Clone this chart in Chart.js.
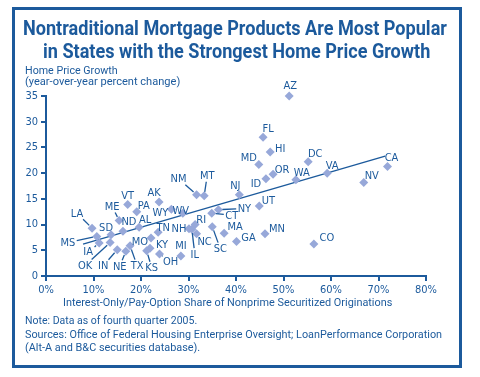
<!DOCTYPE html>
<html>
<head>
<meta charset="utf-8">
<script src="https://cdn.jsdelivr.net/npm/chart.js@4/dist/chart.umd.min.js"></script>
<style>
  body { margin: 0; width: 480px; height: 377px; background: #fff; overflow: hidden;
         font-family: "Roboto", sans-serif; color: #1c5a9c; }
  #frame { position: absolute; left: 12px; top: 7px; width: 444px; height: 355px; border: 3px solid #1c5a9c; }
  .t { position: absolute; white-space: nowrap; line-height: 1; transform-origin: 0 0; }
  .ttl { font-weight: bold; font-size: 20px; }
  .sm { font-size: 11.5px; }
  #wrap { position: absolute; left: 0; top: 0; width: 480px; height: 377px; }
</style>
</head>
<body>
<div id="frame"></div>
<div id="wrap"><canvas id="myChart" width="480" height="377"></canvas></div>
<div class="t ttl" data-w="424" style="left:23px; top:18px">Nontraditional Mortgage Products Are Most Popular</div>
<div class="t ttl" data-w="387" style="left:43px; top:40.7px">in States with the Strongest Home Price Growth</div>
<div class="t sm" data-w="93" style="left:25px; top:64.8px">Home Price Growth</div>
<div class="t sm" data-w="155" style="left:25px; top:76.3px">(year-over-year percent change)</div>
<div class="t sm" data-w="329" style="left:63px; top:296.8px">Interest-Only/Pay-Option Share of Nonprime Securitized Originations</div>
<div class="t sm" data-w="172" style="left:25px; top:315.3px">Note: Data as of fourth quarter 2005.</div>
<div class="t sm" data-w="417" style="left:25px; top:328.6px">Sources: Office of Federal Housing Enterprise Oversight; LoanPerformance Corporation</div>
<div class="t sm" data-w="175" style="left:25px; top:341.8px">(Alt-A and B&amp;C securities database).</div>
<script>
// 州ごとのデータ
var states = ["AZ","FL","HI","MD","DC","OR","ID","WA","VA","CA","NV","NJ","NM","MT","UT","NY","CT","WY","WV","AK",
              "VT","PA","ME","ND","AL","TN","LA","SD","MS","IA","OK","IN","NE","TX","MO","KY","KS","OH","MI","IL",
              "RI","NH","NC","SC","MA","GA","MN","CO"];
// IO/Pay-Option share (%)
var ioShare = [51.2,45.7,47.2,44.8,55.2,47.8,46.3,52.6,59.2,71.9,66.9,40.7,31.7,33.3,44.9,36.3,34.9,26.4,28.8,23.8,
               17.2,19.1,15.4,16.2,19.6,23.6,9.7,13.7,10.7,11.2,13.5,15.0,16.8,17.7,22.1,21.9,21.2,23.9,28.4,30.7,
               31.4,30.1,31.7,35.0,37.5,40.1,46.1,56.4];
// home price growth (%)
var priceGrowth = [35.0,27.0,24.1,21.7,22.2,19.8,18.9,18.7,20.0,21.3,18.2,15.8,15.8,15.6,13.6,12.9,12.2,13.0,12.2,14.4,
                   13.9,12.5,10.8,8.7,9.5,8.5,9.3,8.0,7.7,6.4,6.5,5.1,4.8,5.9,7.4,5.4,4.9,4.3,3.9,9.1,
                   10.0,9.2,8.2,9.6,8.3,6.7,8.2,6.2];
// trend line
var trendX = [7.8, 71.4];
var trendY = [6.2, 23.3];
var xTicks = [0,10,20,30,40,50,60,70,80];
var yTicks = [0,5,10,15,20,25,30,35];

// label placement (pixel offsets from point, leader line flag)
var labelPos = {
  AZ:[1,-10], FL:[5,-9], HI:[10,-3], MD:[-10,-7], DC:[7,-8], OR:[9,-5], ID:[-10,5], WA:[6,-7], VA:[5,-8],
  CA:[4,-9], NV:[8,-7], NJ:[-4,-9], NM:[-18,-16,1], MT:[3,-20,1], UT:[9,-5], NY:[26,-1,1], CT:[20,2,1],
  WY:[-11,3], WV:[-2,-3], AK:[-5,-9], VT:[0,-9], PA:[7,-6], ME:[-7,-14,1], ND:[6,-10], AL:[6,-8], TN:[5,-5],
  LA:[-15,-15,1], SD:[-5,-7], MS:[-29,6,1], IA:[-11,9,1], OK:[-25,23,1], IN:[-14,16,1], NE:[-6,15,1],
  TX:[7,20,1], MO:[-11,4], KY:[12,-4], KS:[5,17,1], OH:[11,8,1], MI:[0,-10], IL:[3,25,1], RI:[6,-5],
  NH:[-10,0], NC:[8,8], SC:[8,22,1], MA:[11,-7], GA:[12,-4], MN:[12,-5], CO:[13,-6]
};

var BLUE = "#1c5a9c";
var FONT = '"DejaVu Sans Condensed", "Roboto", sans-serif';

// テキスト幅を元画像に合わせる
var texts = document.querySelectorAll('.t');
for (var t = 0; t < texts.length; t++) {
  var w = parseFloat(texts[t].getAttribute('data-w'));
  texts[t].style.transform = 'scaleX(' + (w / texts[t].scrollWidth) + ')';
}

var points = [];
for (var i = 0; i < states.length; i++) {
  points.push({x: ioShare[i], y: priceGrowth[i]});
}
var trend = [];
for (var j = 0; j < trendX.length; j++) {
  trend.push({x: trendX[j], y: trendY[j]});
}

// 州名ラベルと引き出し線
var stateLabels = {
  id: 'stateLabels',
  afterDatasetsDraw: function(chart) {
    var ctx = chart.ctx;
    var meta = chart.getDatasetMeta(1);
    ctx.save();
    ctx.font = '11px ' + FONT;
    ctx.fillStyle = BLUE;
    ctx.strokeStyle = BLUE;
    ctx.lineWidth = 1.3;
    ctx.textAlign = 'center';
    ctx.textBaseline = 'middle';
    meta.data.forEach(function(pt, k) {
      var name = states[k];
      var o = labelPos[name] || [0, -9];
      var lx = pt.x + o[0], ly = pt.y + o[1];
      if (o[2]) {
        var hw = ctx.measureText(name).width / 2 + 1.5, hh = 6;
        var dx = o[0], dy = o[1];
        var len = Math.sqrt(dx * dx + dy * dy);
        var ux = dx / len, uy = dy / len;
        var r = Math.min(ux ? hw / Math.abs(ux) : 999, uy ? hh / Math.abs(uy) : 999);
        ctx.beginPath();
        ctx.moveTo(pt.x + ux * 4, pt.y + uy * 4);
        ctx.lineTo(lx - ux * r, ly - uy * r);
        ctx.stroke();
      }
      ctx.fillText(name, lx, ly + 0.5);
    });
    ctx.restore();
  }
};

var ctx = document.getElementById("myChart").getContext('2d');
var chart = new Chart(ctx, {
  type: 'scatter',
  data: {
    datasets: [
      {
        type: 'line', data: trend, borderColor: BLUE, borderWidth: 1.3,
        pointRadius: 0, fill: false, tension: 0, order: 2
      },
      {
        data: points, pointStyle: 'rectRot', pointRadius: 4.5,
        backgroundColor: '#97a8d9', borderWidth: 0, clip: false, order: 1
      }
    ]
  },
  options: {
    responsive: false,
    animation: false,
    layout: { padding: { left: 0, top: 96, right: 54, bottom: 81 } },
    plugins: { legend: { display: false }, tooltip: { enabled: false } },
    scales: {
      x: {
        type: 'linear', min: 0, max: 80,
        afterFit: function(s) { s.height = 20; },
        afterBuildTicks: function(s) { s.ticks = xTicks.map(function(v) { return {value: v}; }); },
        ticks: { color: BLUE, font: { family: FONT, size: 11 }, padding: 3, maxRotation: 0,
                 callback: function(v) { return v + '%'; } },
        grid: { drawOnChartArea: false, color: BLUE, lineWidth: 2, tickLength: 5 },
        border: { color: BLUE, width: 2 }
      },
      y: {
        min: 0, max: 35,
        afterFit: function(s) { s.width = 46; },
        afterBuildTicks: function(s) { s.ticks = yTicks.map(function(v) { return {value: v}; }); },
        ticks: { color: BLUE, font: { family: FONT, size: 11 }, padding: 3 },
        grid: { drawOnChartArea: false, color: BLUE, lineWidth: 2, tickLength: 5 },
        border: { color: BLUE, width: 2 }
      }
    }
  },
  plugins: [stateLabels]
});
</script>
</body>
</html>
